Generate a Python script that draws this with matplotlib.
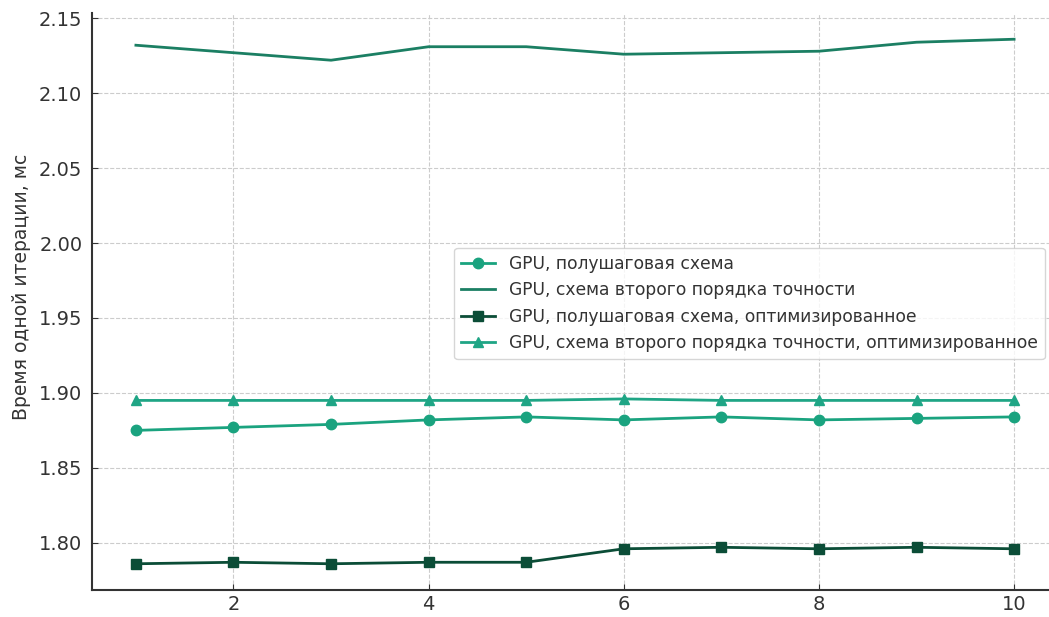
import matplotlib
matplotlib.use("Agg")
import matplotlib.pyplot as plt

# data
iterations = [1, 2, 3, 4, 5, 6, 7, 8, 9, 10]
gpu_half = [1.875, 1.877, 1.879, 1.882, 1.884, 1.882, 1.884, 1.882, 1.883, 1.884]
gpu_second = [2.132, 2.127, 2.122, 2.131, 2.131, 2.126, 2.127, 2.128, 2.134, 2.136]
gpu_half_opt = [1.786, 1.787, 1.786, 1.787, 1.787, 1.796, 1.797, 1.796, 1.797, 1.796]
gpu_second_opt = [1.895, 1.895, 1.895, 1.895, 1.895, 1.896, 1.895, 1.895, 1.895, 1.895]

labels = [
    "GPU, полушаговая схема",
    "GPU, схема второго порядка точности",
    "GPU, полушаговая схема, оптимизированное",
    "GPU, схема второго порядка точности, оптимизированное",
]
ylabel = "Время одной итерации, мс"

plt.rcParams["font.family"] = ["DejaVu Sans"]

fig = plt.figure(figsize=(10.49, 6.17), dpi=100)
ax = fig.add_axes([92 / 1049, 27 / 617, 966 / 1049, 577 / 617])

ax.plot(iterations, gpu_half, "-o", color="#1aa37f", lw=2, ms=7.5, label=labels[0])
ax.plot(iterations, gpu_second, "-", color="#1b7f63", lw=2, label=labels[1])
ax.plot(iterations, gpu_half_opt, "-s", color="#0b4d37", lw=2, ms=7.5, label=labels[2])
ax.plot(iterations, gpu_second_opt, "-^", color="#1fa585", lw=2, ms=7.5, label=labels[3])

ax.set_xticks([2, 4, 6, 8, 10])
ax.set_yticks([1.80, 1.85, 1.90, 1.95, 2.00, 2.05, 2.10, 2.15])
ax.set_yticklabels([f"{v:.2f}" for v in ax.get_yticks()])
ax.set_ylabel(ylabel, fontsize=13.5, color="#333333")
ax.yaxis.set_label_coords(-0.063, 0.525)

ax.grid(True, linestyle="--", color="#cccccc", lw=0.8)
ax.tick_params(direction="in", labelsize=14, colors="#333333", length=4)
ax.tick_params(axis="y", pad=7)
for side in ("top", "right"):
    ax.spines[side].set_visible(False)
for side in ("left", "bottom"):
    ax.spines[side].set_color("#333333")
    ax.spines[side].set_linewidth(1.5)

leg = ax.legend(loc="upper left", bbox_to_anchor=(0.375, 0.593), fontsize=12.35,
                frameon=True, fancybox=True, framealpha=0.8, edgecolor="#cccccc",
                handlelength=2.0, borderaxespad=0, labelspacing=0.5)
for t in leg.get_texts():
    t.set_color("#333333")

fig.savefig("out.png", dpi=100)
